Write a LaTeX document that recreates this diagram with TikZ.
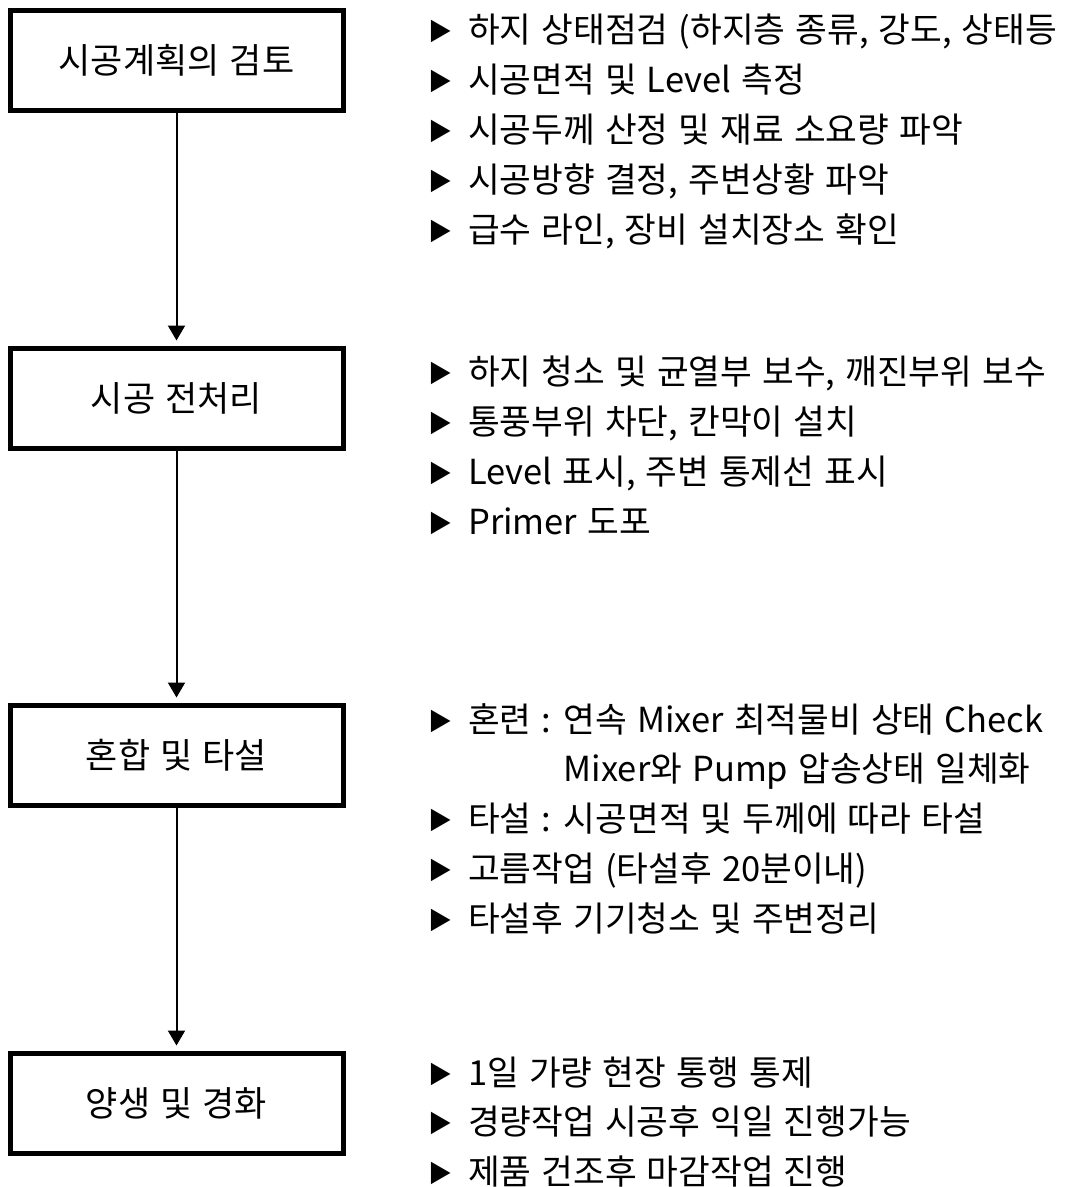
\documentclass[tikz,border=0pt]{standalone}
\usepackage{fontspec}
\setmainfont[WordSpace=1.3]{Noto Sans CJK KR}
\usetikzlibrary{arrows.meta}

% bullet in front of each item
\newcommand{\bul}{\makebox[40pt][l]{\raisebox{2pt}{\fontsize{24pt}{24pt}\selectfont ▶}}}

\tikzset{
  stage/.style={draw, line width=5pt, minimum width=333pt, minimum height=100pt,
    inner sep=0pt, font=\fontsize{35pt}{35pt}\selectfont},
  item/.style={anchor=base west, inner sep=0pt, font=\fontsize{34.5pt}{34.5pt}\selectfont},
  flow/.style={line width=2pt, -{Triangle[length=15pt,width=17pt]}}
}

\begin{document}
\begin{tikzpicture}[x=1pt, y=-1pt]
	\useasboundingbox (0,0) rectangle (1073,1187);

	% Define the process boxes
	\node[stage] (b1) at (176.5, 60) {시공계획의 검토};
	\node[stage] (b2) at (176.5, 398) {시공 전처리};
	\node[stage] (b3) at (176.5, 755) {혼합 및 타설};
	\node[stage] (b4) at (176.5, 1103) {양생 및 경화};

	% Draw the arrows between the boxes
	\draw[flow] (b1.south) -- ([yshift=5pt]b2.north);
	\draw[flow] (b2.south) -- ([yshift=5pt]b3.north);
	\draw[flow] (b3.south) -- ([yshift=5pt]b4.north);

	% Items beside each box
	\foreach \txt [count=\i] in {
		{\bul 하지 상태점검 (하지층 종류, 강도, 상태등},
		{\bul 시공면적 및 Level 측정},
		{\bul 시공두께 산정 및 재료 소요량 파악},
		{\bul 시공방향 결정, 주변상황 파악},
		{\bul 급수 라인, 장비 설치장소 확인}}
		\node[item] (s1-\i) at (428, 42+50*\i-50) {\txt};

	\foreach \txt [count=\i] in {
		{\bul 하지 청소 및 균열부 보수, 깨진부위 보수},
		{\bul 통풍부위 차단, 칸막이 설치},
		{\bul Level 표시, 주변 통제선 표시},
		{\bul Primer 도포}}
		\node[item] (s2-\i) at (428, 384+50*\i-50) {\txt};

	\foreach \txt [count=\i] in {
		{\bul 혼련 : 연속 Mixer 최적물비 상태 Check},
		{\phantom{\bul 혼련 : }Mixer와 Pump 압송상태 일체화},
		{\bul 타설 : 시공면적 및 두께에 따라 타설},
		{\bul 고름작업 (타설후 20분이내)},
		{\bul 타설후 기기청소 및 주변정리}}
		\node[item] (s3-\i) at (428, 732+49.75*\i-49.75) {\txt};

	\foreach \txt [count=\i] in {
		{\bul 1일 가량 현장 통행 통제},
		{\bul 경량작업 시공후 익일 진행가능},
		{\bul 제품 건조후 마감작업 진행}}
		\node[item] (s4-\i) at (428, 1085+49.5*\i-49.5) {\txt};
\end{tikzpicture}
\end{document}
